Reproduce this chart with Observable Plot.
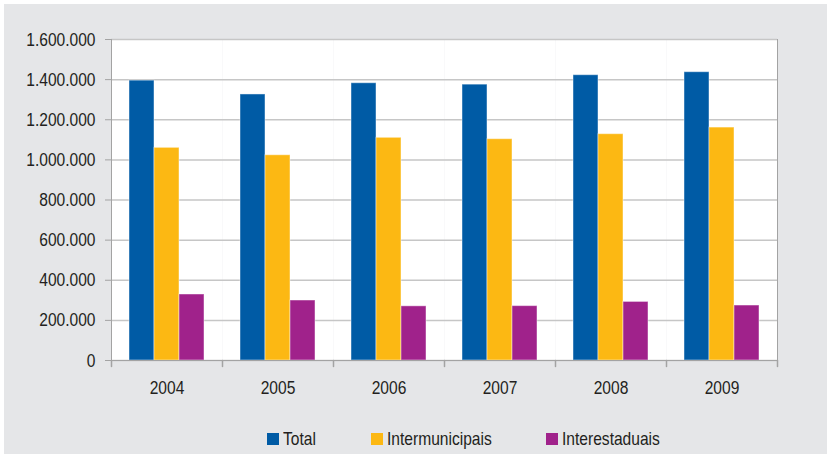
<!DOCTYPE html>
<html>
<head>
<meta charset="utf-8">
<script src="https://cdn.jsdelivr.net/npm/d3@7"></script>
<script src="https://cdn.jsdelivr.net/npm/@observablehq/plot@0.6"></script>
<style>
  html, body { margin: 0; padding: 0; background: #ffffff; }
  #wrap {
    position: absolute; left: 4px; top: 4px; width: 823px; height: 450px;
    background: #e5e6e8; overflow: hidden;
    font-family: 'Liberation Sans', Arial, sans-serif;
    color: #231f20;
  }
  #chart { position: absolute; left: 0; top: 0; }
  .item { position: absolute; top: 429px; height: 13px; }
  .sw { position: absolute; left: 0; top: 0; width: 12px; height: 12px; }
  .lab {
    position: absolute; left: 16px; top: -4px; font-size: 19px; line-height: 20px; white-space: nowrap;
    transform: scaleX(0.82); transform-origin: 0 0;
  }
</style>
</head>
<body>
<div id="wrap">
  <div id="chart"></div>
  <div id="legend"></div>
</div>
<script>
const years = ["2004", "2005", "2006", "2007", "2008", "2009"];
const seriesNames = ["Total", "Intermunicipais", "Interestaduais"];
const totalValues = [1395000, 1326000, 1382000, 1375000, 1422000, 1437000];
const intermunicipaisValues = [1060000, 1023000, 1110000, 1103000, 1128000, 1161000];
const interestaduaisValues = [329000, 299000, 270000, 271000, 292000, 274000];
const seriesColors = ["#005ba5", "#fcb813", "#a0228b"];
const yTicks = [0, 200000, 400000, 600000, 800000, 1000000, 1200000, 1400000, 1600000];

const seriesValues = [totalValues, intermunicipaisValues, interestaduaisValues];
const data = [];
years.forEach((year, i) => {
  seriesNames.forEach((s, j) => data.push({year, series: s, value: seriesValues[j][i]}));
});

const fmt = d3.formatLocale({decimal: ",", thousands: ".", grouping: [3], currency: ["", ""]}).format(",d");
const axisGray = "#a3a3a3";
const tickShape = {draw(context, l) { context.moveTo(0, 0); context.lineTo(0, -l); }};

const chart = Plot.plot({
  width: 823,
  height: 410,
  marginLeft: 106,
  marginRight: 50,
  marginTop: 35,
  marginBottom: 54,
  style: {
    background: "transparent",
    fontFamily: "'Liberation Sans', Arial, sans-serif",
    fontSize: "19px",
    color: "#231f20"
  },
  fx: {domain: years, padding: 0, label: null},
  x: {domain: seriesNames, paddingInner: 0, paddingOuter: 0.72, axis: null},
  y: {domain: [0, 1600000], label: null},
  color: {domain: seriesNames, range: seriesColors},
  marks: [
    Plot.frame({fill: "white", stroke: "none"}),
    Plot.gridY(yTicks, {stroke: "#c6c6c6", strokeOpacity: 1, strokeWidth: 1.5}),
    Plot.frame({anchor: "left", facetAnchor: "left", stroke: axisGray}),
    Plot.frame({anchor: "right", facetAnchor: "right", stroke: axisGray}),
    Plot.barY(data, {fx: "year", x: "series", y: "value", fill: "series", stroke: "white", strokeOpacity: 0.45, strokeWidth: 1}),
    Plot.ruleY([0], {stroke: axisGray, strokeWidth: 1.2}),
    Plot.vector([0], {frameAnchor: "bottom-left", length: 6, rotate: 180, anchor: "start", shape: tickShape, stroke: axisGray}),
    Plot.vector([0], {frameAnchor: "bottom-right", facetAnchor: "right", length: 6, rotate: 180, anchor: "start", shape: tickShape, stroke: axisGray}),
    Plot.axisY(yTicks, {tickSize: 6, tickPadding: 10, tickFormat: fmt, stroke: axisGray, fill: "#231f20", label: null}),
    Plot.axisFx({anchor: "bottom", tickSize: 0, tickPadding: 20, label: null, fill: "#231f20"})
  ]
});
document.getElementById("chart").appendChild(chart);

// Condense text horizontally (narrow sans look), scaling around each text's anchor point
const squeeze = 0.82;
chart.querySelectorAll("text").forEach(t => {
  const x = +(t.getAttribute("x") || 0);
  const tr = t.getAttribute("transform") || "";
  t.setAttribute("x", 0);
  t.setAttribute("transform", `${tr} translate(${x},0) scale(${squeeze},1)`);
});

const legendLeft = [263, 367, 542];
const legend = document.getElementById("legend");
seriesNames.forEach((s, i) => {
  const item = document.createElement("div");
  item.className = "item";
  item.style.left = legendLeft[i] + "px";
  const sw = document.createElement("span");
  sw.className = "sw";
  sw.style.background = seriesColors[i];
  const label = document.createElement("span");
  label.className = "lab";
  label.textContent = s;
  item.appendChild(sw);
  item.appendChild(label);
  legend.appendChild(item);
});
</script>
</body>
</html>
